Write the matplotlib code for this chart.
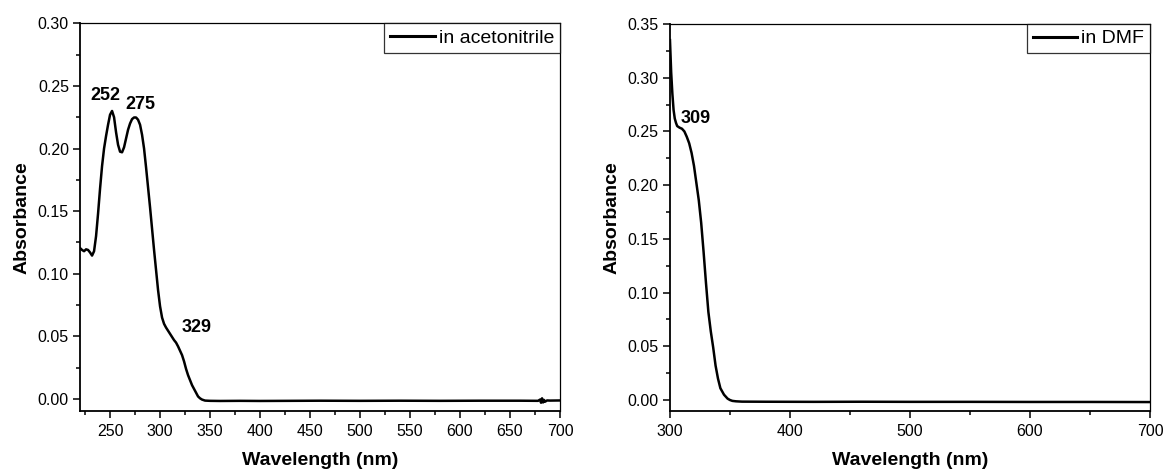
import numpy as np
import matplotlib
matplotlib.use('Agg')
import matplotlib.pyplot as plt
from matplotlib.ticker import MultipleLocator, FormatStrFormatter

plt.rcParams['font.family'] = ['Liberation Sans', 'DejaVu Sans']

# acetonitrile spectrum
wl_acn = [220, 222, 224, 226, 228, 230, 232, 234, 236, 238, 240, 242, 244, 246, 248, 250,
          252, 254, 256, 258, 260, 262, 264, 266, 268, 270, 272, 274, 276, 278, 280, 282,
          284, 286, 288, 290, 292, 294, 296, 298, 300, 302, 304, 306, 308, 310, 312, 314,
          316, 318, 320, 322, 324, 326, 328, 330, 332, 334, 336, 338, 340, 342, 345, 350,
          360, 380, 400, 430, 460, 500, 540, 580, 620, 660, 678, 680, 681, 682, 683, 684,
          685, 687, 690, 700]
abs_acn = [0.1205, 0.119, 0.118, 0.1195, 0.119, 0.117, 0.1145, 0.118, 0.130, 0.148, 0.168,
           0.186, 0.200, 0.210, 0.219, 0.227, 0.230, 0.225, 0.213, 0.203, 0.1975, 0.197,
           0.201, 0.208, 0.215, 0.220, 0.2235, 0.2248, 0.2248, 0.223, 0.219, 0.211, 0.200,
           0.185, 0.169, 0.153, 0.136, 0.119, 0.103, 0.087, 0.074, 0.065, 0.060, 0.057,
           0.0545, 0.052, 0.0495, 0.047, 0.045, 0.042, 0.0385, 0.035, 0.030, 0.024, 0.019,
           0.015, 0.011, 0.008, 0.005, 0.002, 0.0005, -0.0005, -0.0013, -0.0015, -0.0016,
           -0.0015, -0.0016, -0.0015, -0.0014, -0.0015, -0.0014, -0.0015, -0.0014, -0.0014,
           -0.0015, -0.0005, -0.003, 0.0005, -0.0028, -0.0008, -0.0022, -0.0012, -0.0013,
           -0.0012]

# DMF spectrum
wl_dmf = [300, 300.5, 301, 302, 303, 304, 305, 306, 308, 310, 312, 314, 316, 318, 320, 322,
          324, 326, 328, 330, 332, 334, 336, 338, 340, 342, 345, 348, 350, 352, 355, 360,
          380, 420, 460, 500, 550, 600, 650, 700]
abs_dmf = [0.335, 0.32, 0.305, 0.285, 0.270, 0.262, 0.258, 0.255, 0.2535, 0.2525, 0.250,
           0.245, 0.239, 0.230, 0.218, 0.202, 0.186, 0.165, 0.138, 0.109, 0.082, 0.064,
           0.049, 0.032, 0.020, 0.011, 0.005, 0.0013, 0.000, -0.0008, -0.0012, -0.0015,
           -0.0016, -0.0017, -0.0016, -0.0017, -0.0017, -0.0018, -0.0018, -0.0019]

peaks_acn = [("252", 245.7, 0.2425, 'center'), ("275", 280.7, 0.235, 'center'),
             ("329", 321.7, 0.057, 'left')]
peaks_dmf = [("309", 309.2, 0.262, 'left')]


def style_axes(ax, xmaj, xmin, ymaj, ymin):
    ax.xaxis.set_major_locator(MultipleLocator(xmaj))
    ax.xaxis.set_minor_locator(MultipleLocator(xmin))
    ax.yaxis.set_major_locator(MultipleLocator(ymaj))
    ax.yaxis.set_minor_locator(MultipleLocator(ymin))
    ax.yaxis.set_major_formatter(FormatStrFormatter('%.2f'))
    ax.tick_params(which='both', direction='out', top=False, right=False,
                   labelsize=11.5, width=1.1, pad=3)
    ax.tick_params(which='major', length=5)
    ax.tick_params(which='minor', length=3)
    ax.tick_params(axis='x', pad=4.5)
    for s in ['left', 'bottom']:
        ax.spines[s].set_linewidth(1.3)
    for s in ['top', 'right']:
        ax.spines[s].set_linewidth(0.9)
    ax.set_xlabel('Wavelength (nm)', fontsize=14, fontweight='bold', labelpad=9)
    ax.set_ylabel('Absorbance', fontsize=14, fontweight='bold', labelpad=5)


fig = plt.figure(figsize=(11.67, 4.76), dpi=100)

ax1 = fig.add_axes([0.0686, 0.1366, 0.4113, 0.8144])
ax1.plot(wl_acn, abs_acn, color='black', lw=1.8, label='in acetonitrile')
ax1.set_xlim(220, 700)
ax1.set_ylim(-0.0096, 0.30)
style_axes(ax1, 50, 25, 0.05, 0.025)
for txt, x, y, ha in peaks_acn:
    ax1.text(x, y, txt, fontsize=13, fontweight='bold', ha=ha, va='center')

ax2 = fig.add_axes([0.5741, 0.1366, 0.4113, 0.8130])
ax2.plot(wl_dmf, abs_dmf, color='black', lw=1.8, label='in DMF')
ax2.set_xlim(300, 700)
ax2.set_ylim(-0.0102, 0.35)
style_axes(ax2, 100, 50, 0.05, 0.025)
for txt, x, y, ha in peaks_dmf:
    ax2.text(x, y, txt, fontsize=13, fontweight='bold', ha=ha, va='center')

for ax in (ax1, ax2):
    leg = ax.legend(loc='upper right', fontsize=14, frameon=True, fancybox=False,
                    borderaxespad=0, borderpad=0.3, handlelength=2.3,
                    handletextpad=0.2)
    leg.get_frame().set_edgecolor('black')
    leg.get_frame().set_linewidth(0.9)
    leg.get_lines()[0].set_linewidth(2.2)

fig.savefig('out.png', dpi=100)
